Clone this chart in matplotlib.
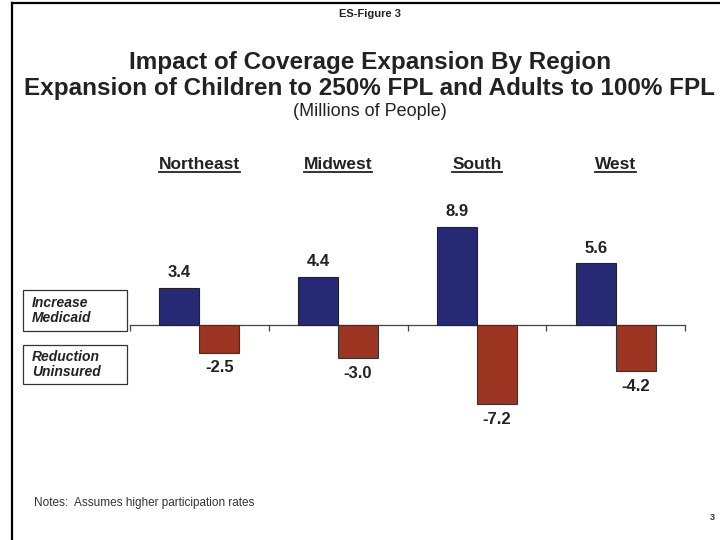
import matplotlib.pyplot as plt
from matplotlib.lines import Line2D
from matplotlib.patches import Rectangle

plt.rcParams['font.family'] = ['Liberation Sans', 'DejaVu Sans']

regions = ['Northeast', 'Midwest', 'South', 'West']
increase_medicaid = [3.4, 4.4, 8.9, 5.6]
reduction_uninsured = [-2.5, -3.0, -7.2, -4.2]
series_names = ['Increase\nMedicaid', 'Reduction\nUninsured']

BLUE = '#262a75'
RED = '#9c3521'
INK = '#222222'


def px(x, y):
    # pixel position (from top-left) to figure fraction
    return x / 720, 1 - y / 540


def main():
    fig = plt.figure(figsize=(7.2, 5.4), dpi=100)

    # frame lines on the left and top of the slide
    fig.add_artist(Line2D([12 / 720, 12 / 720], [0, 1 - 3 / 540], color='black', lw=1.6))
    fig.add_artist(Line2D([12 / 720, 1], [1 - 3 / 540, 1 - 3 / 540], color='black', lw=1.6))

    # axes placed so that zero sits at y=325 px with ~11 px per million
    ax = fig.add_axes([130 / 720, 1 - 457 / 540, 555 / 720, 242 / 540])
    ax.set_xlim(-0.5, 3.5)
    ax.set_ylim(-12, 10)

    w = 0.288
    xs = list(range(len(regions)))
    ax.bar([x - w / 2 for x in xs], increase_medicaid, width=w, color=BLUE,
           edgecolor=INK, linewidth=0.8, zorder=3)
    ax.bar([x + w / 2 for x in xs], reduction_uninsured, width=w, color=RED,
           edgecolor='#333333', linewidth=0.8, zorder=3)

    for x, v in zip(xs, increase_medicaid):
        ax.text(x - w / 2, v + 0.7, f'{v:.1f}', ha='center', va='bottom',
                fontsize=12, fontweight='bold', color=INK)
    for x, v in zip(xs, reduction_uninsured):
        ax.text(x + w / 2, v - 0.7, f'{v:.1f}', ha='center', va='top',
                fontsize=12, fontweight='bold', color=INK)

    heads = []
    for x, name in zip(xs, regions):
        heads.append(ax.text(x, 14.6, name, ha='center', va='center', fontsize=12.5,
                             fontweight='bold', color=INK))
    # underline the region headings
    fig.canvas.draw()
    renderer = fig.canvas.get_renderer()
    for txt in heads:
        bb = txt.get_window_extent(renderer).transformed(fig.transFigure.inverted())
        y = bb.y0 - 0.001
        fig.add_artist(Line2D([bb.x0, bb.x1], [y, y], color=INK, lw=1.3))

    for s in ['top', 'right', 'left']:
        ax.spines[s].set_visible(False)
    ax.spines['bottom'].set_position(('data', 0))
    ax.spines['bottom'].set_color('#444444')
    ax.spines['bottom'].set_linewidth(0.9)
    ax.set_xticks([-0.5, 0.5, 1.5, 2.5, 3.5])
    ax.set_xticklabels([])
    ax.tick_params(axis='x', direction='out', length=4, color='#444444', width=0.9)
    ax.set_yticks([])

    # titles
    fig.text(*px(370, 14), 'ES-Figure 3', ha='center', va='center',
             fontsize=8, fontweight='bold', color=INK)
    fig.text(*px(370, 63), 'Impact of Coverage Expansion By Region',
             ha='center', va='center', fontsize=17.5, fontweight='bold', color=INK)
    fig.text(*px(369, 88),
             'Expansion of Children to 250% FPL and Adults to 100% FPL',
             ha='center', va='center', fontsize=17.5, fontweight='bold', color=INK)
    fig.text(*px(370, 112), '(Millions of People)', ha='center',
             va='center', fontsize=13, color=INK)

    # series labels in boxes on the left
    for name, (top, bottom) in zip(series_names, [(290, 331), (345, 384)]):
        x0, y0 = px(23, bottom)
        fig.add_artist(Rectangle((x0, y0), 104 / 720, (bottom - top) / 540,
                                 facecolor='white', edgecolor='#333333', lw=0.9))
        fig.text(*px(32, (top + bottom) / 2), name, ha='left', va='center',
                 fontsize=10, fontweight='bold', fontstyle='italic', color=INK,
                 linespacing=1.15)

    fig.text(*px(34, 503), 'Notes:  Assumes higher participation rates',
             ha='left', va='center', fontsize=8.5, color='#333333')
    fig.text(*px(712, 518), '3', ha='center', va='center',
             fontsize=6.5, fontweight='bold', color='#333333')

    fig.savefig('out.png', dpi=100)


if __name__ == "__main__":
    main()
